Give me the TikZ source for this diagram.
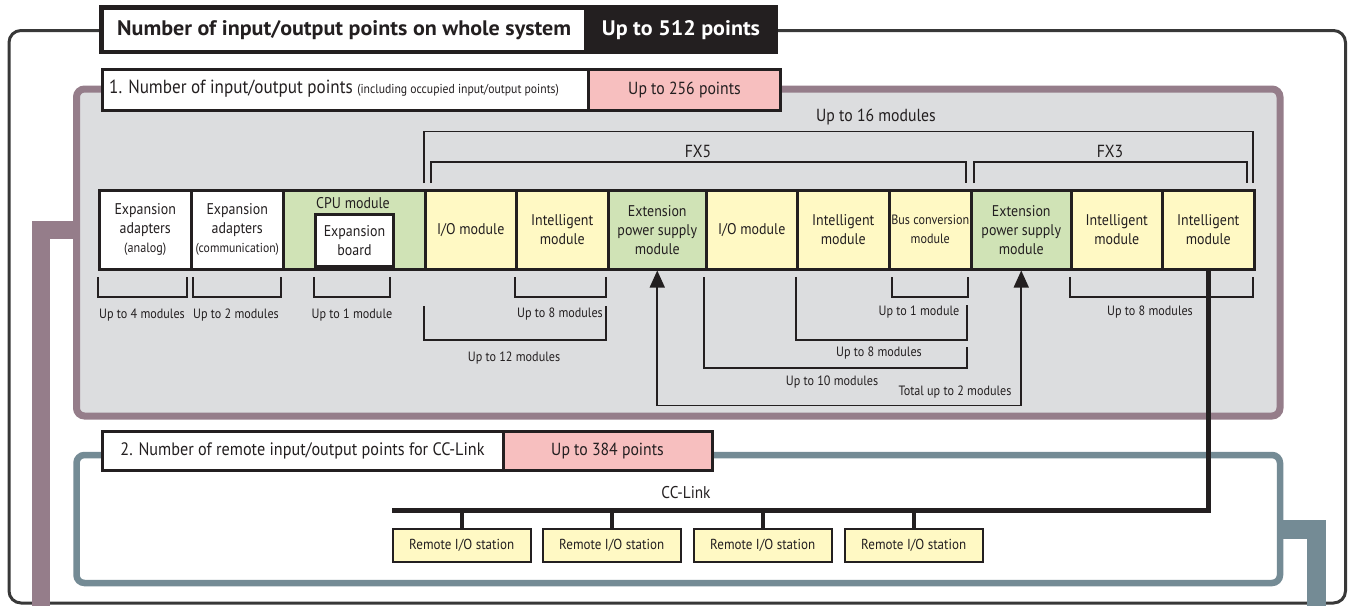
\documentclass[tikz,border=0pt]{standalone}
\usepackage{fontspec}
\setmainfont{PT Sans}[FakeStretch=0.9]
\newfontfamily\hdrfont{PT Sans Bold}[FakeStretch=1.05]
\usetikzlibrary{arrows.meta,calc}
\definecolor{txt}{HTML}{231F20}
\definecolor{linec}{HTML}{231F20}
\definecolor{framec}{HTML}{383838}
\definecolor{mauve}{HTML}{957D8A}
\definecolor{grayf}{HTML}{DCDDDF}
\definecolor{bluec}{HTML}{748B95}
\definecolor{yel}{HTML}{FFF9C4}
\definecolor{grn}{HTML}{D0E3B6}
\definecolor{pinkc}{HTML}{F7BFBF}
\tikzset{
  every node/.style={text=txt},
  modbox/.style={draw=linec, line width=2.5pt, minimum height=79pt, inner sep=0pt, anchor=north west, align=center, font=\fontsize{15.5}{19}\selectfont},
  modY/.style={modbox, fill=yel},
  modG/.style={modbox, fill=grn},
  modW/.style={modbox, fill=white},
  brk/.style={draw=linec, line width=1.6pt},
  blab/.style={font=\fontsize{13.5}{16}\selectfont, inner sep=0pt},
  toplab/.style={font=\fontsize{17.5}{20}\selectfont, inner sep=0pt},
  hbox/.style={draw=linec, line width=3pt, anchor=north west, inner sep=0pt},
  riobox/.style={draw=linec, line width=1.5pt, fill=yel, anchor=north west, inner sep=0pt, minimum width=138pt, minimum height=33pt, font=\fontsize{14.5}{16}\selectfont},
}
\begin{document}
\begin{tikzpicture}[x=1pt,y=-1pt]
\useasboundingbox (0,0) rectangle (1349,605);
\clip (0,0) rectangle (1349,605);
% outer frame
\draw[line width=3pt, framec, rounded corners=12pt] (9,30.5) rectangle (1345.5,603);
% mauve band and frame
\draw[line width=18pt, mauve] (78,229.5) -- (41,229.5) -- (41,615);
\draw[line width=7pt, mauve, fill=grayf, rounded corners=8pt] (76.5,89) rectangle (1280,416);
% blue band and frame
\draw[line width=19pt, bluec] (1278,529.5) -- (1316.5,529.5) -- (1316.5,615);
\draw[line width=6.5pt, bluec, fill=white, rounded corners=8pt] (76.5,455) rectangle (1280,583);
% header
\node[fill=linec, anchor=north west, inner sep=0pt, minimum width=679pt, minimum height=49pt] (hdr) at (99,5) {};
\node[fill=white, anchor=north west, inner sep=0pt, minimum width=480pt, minimum height=40pt, font=\hdrfont\fontsize{21}{24}\selectfont] (hdrl) at (104,10) {Number of input/output points on whole system};
\node[text=white, font=\hdrfont\fontsize{21}{24}\selectfont, inner sep=0pt] (hdrr) at (681,30) {Up to 512 points};
% box 1
\node[hbox, fill=white, minimum width=486pt, minimum height=41pt] (b1l) at (101,68) {};
\node[hbox, fill=pinkc, minimum width=192pt, minimum height=41pt, font=\fontsize{17.5}{20}\selectfont] (b1r) at (587,68) {Up to 256 points};
\node[anchor=west, inner sep=0pt, font=\fontsize{19}{21}\selectfont] (b1t) at (109,88.5) {1. Number of input/output points \fontsize{13}{15}\selectfont (including occupied input/output points)};
% box 2
\node[hbox, fill=white, minimum width=401pt, minimum height=39pt, font=\fontsize{18}{20}\selectfont] (b2l) at (100.5,430) {2. Number of remote input/output points for CC-Link};
\node[hbox, fill=pinkc, minimum width=209pt, minimum height=39pt, font=\fontsize{17.5}{20}\selectfont] (b2r) at (501.5,430) {Up to 384 points};
% modules
\node[modW, minimum width=92pt] (ea1) at (98,189) {Expansion\\adapters\\{\fontsize{13.5}{15}\selectfont(analog)}};
\node[modW, minimum width=92pt] (ea2) at (190,189) {Expansion\\adapters\\{\fontsize{13}{15}\selectfont(communication)}};
\node[modG, minimum width=142pt] (cpu) at (282,189) {};
\node[inner sep=0pt, font=\fontsize{15.5}{18}\selectfont] (cpul) at (353,203) {CPU module};
\node[draw=linec, line width=3pt, fill=white, anchor=north west, inner sep=0pt, minimum width=78pt, minimum height=52pt, align=center, font=\fontsize{15.5}{19}\selectfont] (eb) at (314,213) {Expansion\\board};
\node[modY, minimum width=91pt] (io1) at (424,189) {I/O module};
\node[modY, minimum width=92pt] (int1) at (515,189) {Intelligent\\module};
\node[modG, minimum width=98pt] (psu1) at (607,189) {Extension\\power supply\\module};
\node[modY, minimum width=91pt] (io2) at (705,189) {I/O module};
\node[modY, minimum width=92pt] (int2) at (796,189) {Intelligent\\module};
\node[modY, minimum width=82pt, font=\fontsize{13.5}{19}\selectfont] (bcm) at (888,189) {Bus conversion\\module};
\node[modG, minimum width=100pt] (psu2) at (970,189) {Extension\\power supply\\module};
\node[modY, minimum width=91pt] (int3) at (1070,189) {Intelligent\\module};
\node[modY, minimum width=92pt] (int4) at (1161,189) {Intelligent\\module};
% top brackets
\draw[brk] (424,183) -- (424,131.5) -- (1253,131.5) -- (1253,183);
\draw[brk] (431,183) -- (431,162) -- (966,162) -- (966,183);
\draw[brk] (974,183) -- (974,162) -- (1247,162) -- (1247,183);
\node[toplab] (l16) at (876,117) {Up to 16 modules};
\node[toplab] (lfx5) at (698,151) {FX5};
\node[toplab] (lfx3) at (1110,151) {FX3};
% bottom brackets
\draw[brk] (98,277) -- (98,297) -- (187,297) -- (187,277);
\draw[brk] (193,277) -- (193,297) -- (281,297) -- (281,277);
\draw[brk] (314,277) -- (314,297) -- (390,297) -- (390,277);
\draw[brk] (515,277) -- (515,297) -- (606,297) -- (606,277);
\draw[brk] (424,306) -- (424,340) -- (606,340) -- (606,306);
\draw[brk] (892,277) -- (892,297) -- (968,297) -- (968,277);
\draw[brk] (796,277) -- (796,340) -- (967,340) -- (967,305);
\draw[brk] (704,277) -- (704,368) -- (967,368) -- (967,347);
\draw[brk] (1070,277) -- (1070,297) -- (1253,297) -- (1253,277);
\node[blab] (u4) at (142,315) {Up to 4 modules};
\node[blab] (u2) at (236,315) {Up to 2 modules};
\node[blab] (u1a) at (352,315) {Up to 1 module};
\node[blab] (u8a) at (560,314) {Up to 8 modules};
\node[blab] (u12) at (514,358) {Up to 12 modules};
\node[blab] (u1b) at (919,312) {Up to 1 module};
\node[blab] (u8b) at (879,353) {Up to 8 modules};
\node[blab] (u10) at (832,382) {Up to 10 modules};
\node[blab] (u8c) at (1150,312) {Up to 8 modules};
\node[blab] (tot) at (955,392) {Total up to 2 modules};
% psu arrow
\draw[brk, {Triangle[length=17pt,width=15pt]}-{Triangle[length=17pt,width=15pt]}] (psu1.south) -- ++(0,135) -| (psu2.south);
% CC-Link
\node[inner sep=0pt, font=\fontsize{17}{20}\selectfont] (ccl) at (686,493) {CC-Link};
\node[riobox] (rio1) at (392,528) {Remote I/O station};
\node[riobox] (rio2) at (542,528) {Remote I/O station};
\node[riobox] (rio3) at (693,528) {Remote I/O station};
\node[riobox] (rio4) at (844,528) {Remote I/O station};
\coordinate (busL) at (392,510.5);
\draw[linec, line width=4.5pt] (int4.south) |- (busL);
\foreach \r in {rio1,rio2,rio3,rio4} \draw[linec, line width=4pt] (\r.north) -- (\r.north |- busL);
\end{tikzpicture}
\end{document}
